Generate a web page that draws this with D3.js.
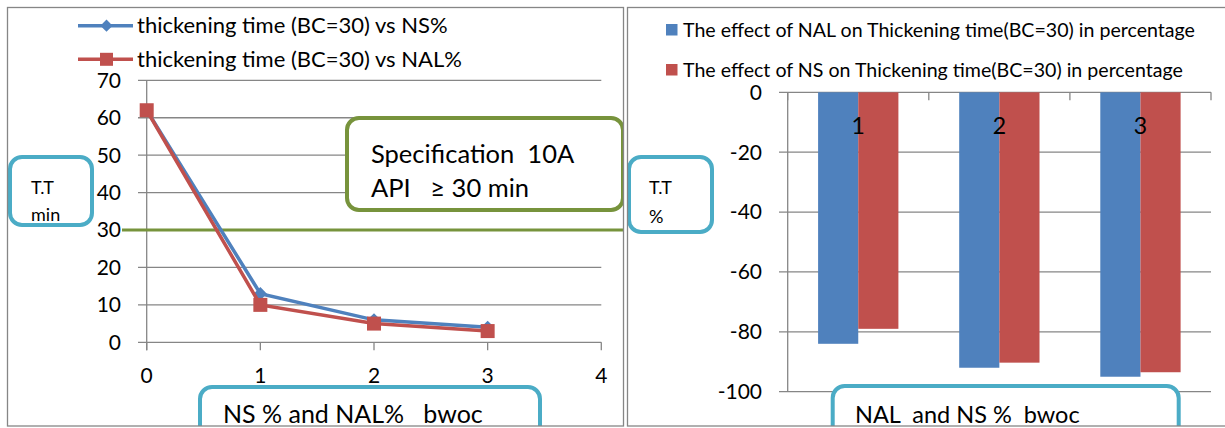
<!DOCTYPE html>
<html>
<head>
<meta charset="utf-8">
<script src="https://cdn.jsdelivr.net/npm/d3@7"></script>
<style>
  html, body { margin: 0; padding: 0; background: #fff; }
  svg { display: block; font-family: Lato, "Open Sans", sans-serif; }
  text { white-space: pre; }
</style>
</head>
<body>
<svg id="chart" width="1225" height="428"></svg>
<script>
// ---------- data ----------
const xValues = [0, 1, 2, 3];
const nsTime = [62, 13, 6, 4];
const nalTime = [62, 10, 5, 3];
const lineSeriesNames = ["thickening time (BC=30) vs NS%", "thickening time (BC=30) vs NAL%"];
const xTicksLeft = [0, 1, 2, 3, 4];
const yTicksLeft = [0, 10, 20, 30, 40, 50, 60, 70];
const specLimit = 30;
const specText = ["Specification  10A", "API   \u2265 30 min"];
const leftYLabel = ["T.T", "min"];
const leftXLabel = "NS % and NAL%   bwoc";

const categories = ["1", "2", "3"];
const nalEffect = [-84, -92, -95];
const nsEffect = [-79, -90.3, -93.5];
const barSeriesNames = ["The effect of NAL on Thickening time(BC=30) in percentage",
                        "The effect of NS on Thickening time(BC=30) in percentage"];
const yTicksRight = [0, -20, -40, -60, -80, -100];
const rightYLabel = ["T.T", "%"];
const rightXLabel = "NAL  and NS %  bwoc";

// ---------- style ----------
const BLUE = "#4F81BD", RED = "#C0504D", GREEN = "#77933C", CYAN = "#4BACC6", GRID = "#868686";

const svg = d3.select("#chart");
svg.append("rect").attr("width", 1225).attr("height", 428).attr("fill", "#fff");

const defs = svg.append("defs");
defs.append("clipPath").attr("id", "clipL").append("rect").attr("x", 7).attr("y", 7).attr("width", 617).attr("height", 419);
defs.append("clipPath").attr("id", "clipR").append("rect").attr("x", 627).attr("y", 7).attr("width", 600).attr("height", 419);

// ================= LEFT PANEL =================
const L = svg.append("g").attr("clip-path", "url(#clipL)");
const x = d3.scaleLinear().domain([0, 4]).range([146.7, 601.3]);
const y = d3.scaleLinear().domain([0, 70]).range([342.3, 80.3]);

// gridlines
L.append("g").selectAll("line").data(yTicksLeft).join("line")
  .attr("x1", 138).attr("x2", x(4))
  .attr("y1", d => y(d)).attr("y2", d => y(d))
  .attr("stroke", GRID).attr("stroke-width", 1.3);
// y axis line
L.append("line").attr("x1", x(0)).attr("x2", x(0)).attr("y1", y(70)).attr("y2", y(0) + 8)
  .attr("stroke", GRID).attr("stroke-width", 1.3);
// x ticks
L.append("g").selectAll("line").data(xTicksLeft).join("line")
  .attr("x1", d => x(d)).attr("x2", d => x(d)).attr("y1", y(0)).attr("y2", y(0) + 8)
  .attr("stroke", GRID).attr("stroke-width", 1.3);
// y tick labels
L.append("g").selectAll("text").data(yTicksLeft).join("text")
  .attr("x", 121).attr("y", d => y(d)).attr("dy", "0.35em")
  .attr("text-anchor", "end").attr("font-size", 21).text(d => d);
// x tick labels
L.append("g").selectAll("text").data(xTicksLeft).join("text")
  .attr("x", d => x(d)).attr("y", 376).attr("dy", "0.35em")
  .attr("text-anchor", "middle").attr("font-size", 21).text(d => d);

// spec line
L.append("line").attr("x1", 122).attr("x2", 623).attr("y1", y(specLimit)).attr("y2", y(specLimit))
  .attr("stroke", GREEN).attr("stroke-width", 3);

// lines
const lineGen = d3.line().x((d, i) => x(xValues[i])).y(d => y(d));
L.append("path").datum(nsTime).attr("d", lineGen).attr("fill", "none")
  .attr("stroke", BLUE).attr("stroke-width", 3.5);
L.append("g").selectAll("path").data(nsTime).join("path")
  .attr("transform", (d, i) => `translate(${x(xValues[i])},${y(d)})`)
  .attr("d", d3.symbol().type(d3.symbolDiamond2).size(110)).attr("fill", BLUE);
L.append("path").datum(nalTime).attr("d", lineGen).attr("fill", "none")
  .attr("stroke", RED).attr("stroke-width", 3.5);
L.append("g").selectAll("rect").data(nalTime).join("rect")
  .attr("x", (d, i) => x(xValues[i]) - 7).attr("y", d => y(d) - 7)
  .attr("width", 14).attr("height", 14).attr("fill", RED);

// legend
const legL = L.append("g");
[0, 1].forEach(i => {
  const ly = [25.7, 59.3][i];
  legL.append("line").attr("x1", 78).attr("x2", 133).attr("y1", ly).attr("y2", ly)
    .attr("stroke", i ? RED : BLUE).attr("stroke-width", 3.5);
  if (i === 0) {
    legL.append("path").attr("transform", `translate(106.5,${ly})`)
      .attr("d", d3.symbol().type(d3.symbolDiamond2).size(95)).attr("fill", BLUE);
  } else {
    legL.append("rect").attr("x", 100).attr("y", ly - 6.5).attr("width", 13).attr("height", 13).attr("fill", RED);
  }
  legL.append("text").attr("x", 137).attr("y", ly).attr("dy", "0.35em")
    .attr("font-size", 22).text(lineSeriesNames[i]);
});

// spec box
L.append("rect").attr("x", 347).attr("y", 118).attr("width", 276).attr("height", 92).attr("rx", 12)
  .attr("fill", "#fff").attr("stroke", GREEN).attr("stroke-width", 4);
L.append("text").attr("x", 371).attr("y", 163).attr("font-size", 25.5).text(specText[0]);
L.append("text").attr("x", 371).attr("y", 197).attr("font-size", 25.5).text(specText[1]);

// y label box
L.append("rect").attr("x", 10).attr("y", 157).attr("width", 82).attr("height", 68).attr("rx", 12)
  .attr("fill", "#fff").attr("stroke", CYAN).attr("stroke-width", 4);
L.append("text").attr("x", 31).attr("y", 194).attr("font-size", 18).text(leftYLabel[0]);
L.append("text").attr("x", 31).attr("y", 221).attr("font-size", 18).text(leftYLabel[1]);

// x label box
L.append("rect").attr("x", 200).attr("y", 387).attr("width", 340).attr("height", 70).attr("rx", 12)
  .attr("fill", "#fff").attr("stroke", CYAN).attr("stroke-width", 4);
L.append("text").attr("x", 223).attr("y", 423).attr("font-size", 25).text(leftXLabel);

// panel border
svg.append("rect").attr("x", 7.5).attr("y", 7.5).attr("width", 616).attr("height", 418.5)
  .attr("fill", "none").attr("stroke", GRID).attr("stroke-width", 1.3);

// ================= RIGHT PANEL =================
const R = svg.append("g").attr("clip-path", "url(#clipR)");
const x0 = d3.scaleBand().domain(categories).range([787.7, 1211]).padding(0);
const x1 = d3.scaleBand().domain([0, 1]).range([0, x0.bandwidth()]).paddingInner(0).paddingOuter(0.757);
const yr = d3.scaleLinear().domain([-100, 0]).range([391.7, 92.3]);

// gridlines
R.append("g").selectAll("line").data(yTicksRight).join("line")
  .attr("x1", 779).attr("x2", 1211)
  .attr("y1", d => yr(d)).attr("y2", d => yr(d))
  .attr("stroke", GRID).attr("stroke-width", 1.3);

// bars
const barData = categories.map((c, i) => ({ c, vals: [nalEffect[i], nsEffect[i]] }));
R.append("g").selectAll("g").data(barData).join("g")
  .attr("transform", d => `translate(${x0(d.c)},0)`)
  .selectAll("rect").data(d => d.vals.map((v, k) => ({ v, k }))).join("rect")
  .attr("x", d => x1(d.k)).attr("width", x1.bandwidth())
  .attr("y", yr(0)).attr("height", d => yr(d.v) - yr(0))
  .attr("fill", d => d.k ? RED : BLUE);

// axis line & category ticks
R.append("line").attr("x1", x0.range()[0]).attr("x2", x0.range()[0]).attr("y1", yr(0)).attr("y2", yr(-100))
  .attr("stroke", GRID).attr("stroke-width", 1.3);
const bounds = categories.map(c => x0(c)).concat([x0.range()[1]]);
R.append("g").selectAll("line").data(bounds).join("line")
  .attr("x1", d => d).attr("x2", d => d).attr("y1", yr(0)).attr("y2", yr(0) + 8)
  .attr("stroke", GRID).attr("stroke-width", 1.3);

// y tick labels
R.append("g").selectAll("text").data(yTicksRight).join("text")
  .attr("x", 762).attr("y", d => yr(d)).attr("dy", "0.35em")
  .attr("text-anchor", "end").attr("font-size", 21).text(d => d === 0 ? "0" : "-" + Math.abs(d));
// category labels
R.append("g").selectAll("text").data(categories).join("text")
  .attr("x", d => x0(d) + x0.bandwidth() / 2).attr("y", 126).attr("dy", "0.35em")
  .attr("text-anchor", "middle").attr("font-size", 23).text(d => d);

// legend
[0, 1].forEach(i => {
  const ly = [30, 70][i];
  R.append("rect").attr("x", 666).attr("y", ly - 6).attr("width", 11.5).attr("height", 11.5)
    .attr("fill", i ? RED : BLUE);
  R.append("text").attr("x", 683).attr("y", ly).attr("dy", "0.35em").attr("font-size", 19.6)
    .text(barSeriesNames[i]);
});

// y label box
R.append("rect").attr("x", 629).attr("y", 157).attr("width", 83).attr("height", 75).attr("rx", 12)
  .attr("fill", "#fff").attr("stroke", CYAN).attr("stroke-width", 4);
R.append("text").attr("x", 649).attr("y", 194).attr("font-size", 18).text(rightYLabel[0]);
R.append("text").attr("x", 649).attr("y", 223).attr("font-size", 18).text(rightYLabel[1]);

// x label box
R.append("rect").attr("x", 832.7).attr("y", 386).attr("width", 346).attr("height", 70).attr("rx", 12)
  .attr("fill", "#fff").attr("stroke", CYAN).attr("stroke-width", 4);
R.append("text").attr("x", 855).attr("y", 423).attr("font-size", 23.5).text(rightXLabel);

// panel border
svg.append("rect").attr("x", 627.5).attr("y", 7.5).attr("width", 620).attr("height", 418.5)
  .attr("fill", "none").attr("stroke", GRID).attr("stroke-width", 1.3);
</script>
</body>
</html>
